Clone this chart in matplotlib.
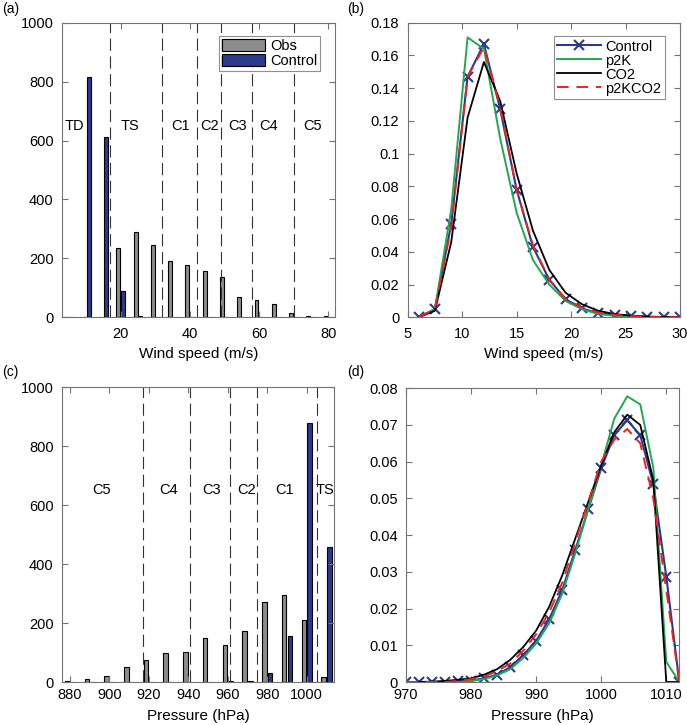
import numpy as np
import matplotlib
matplotlib.use('Agg')
import matplotlib.pyplot as plt
from matplotlib.ticker import FuncFormatter

plt.rcParams['font.family'] = ['Liberation Sans', 'DejaVu Sans']
plt.rcParams['font.size'] = 10.5

# (a) wind speed histogram
wind_bins = [5, 10, 15, 20, 25, 30, 35, 40, 45, 50, 55, 60, 65, 70, 75, 80]
wind_obs = [2, 0, 0, 235, 290, 245, 192, 178, 158, 137, 68, 60, 45, 15, 5, 5]
wind_ctl = [0, 815, 612, 90, 5, 0, 0, 0, 0, 0, 0, 0, 0, 0, 0, 0]
wind_thresh = [17, 32, 42, 49, 58, 70]
wind_cat_x = [6.5, 22.8, 37.2, 45.6, 53.8, 62.8, 75.6]
wind_cat = ['TD', 'TS', 'C1', 'C2', 'C3', 'C4', 'C5']

# (b) wind speed PDFs
wind_x = [6, 7.5, 9, 10.5, 12, 13.5, 15, 16.5, 18, 19.5, 21, 22.5, 24, 25.5, 27, 28.5, 30]
wind_control = [0, 0.005, 0.057, 0.147, 0.167, 0.127, 0.078, 0.043, 0.023, 0.011,
                0.0055, 0.0024, 0.0016, 0.0008, 0.0002, 0, 0]
wind_p2k = [0, 0.005, 0.066, 0.171, 0.164, 0.109, 0.064, 0.035, 0.020, 0.010,
            0.005, 0.002, 0.001, 0.0005, 0, 0, 0]
wind_co2 = [0, 0.004, 0.046, 0.122, 0.156, 0.132, 0.088, 0.053, 0.029, 0.015,
            0.008, 0.004, 0.002, 0.001, 0.0005, 0.0002, 0]
wind_p2kco2 = [0, 0.005, 0.055, 0.147, 0.165, 0.128, 0.078, 0.044, 0.023, 0.011,
               0.006, 0.003, 0.0015, 0.0008, 0.0003, 0, 0]

# (c) pressure histogram
pres_bins = [880, 890, 900, 910, 920, 930, 940, 950, 960, 970, 980, 990, 1000, 1010]
pres_obs = [2, 9, 22, 50, 75, 98, 103, 149, 125, 174, 270, 296, 209, 16]
pres_ctl = [0, 0, 0, 0, 0, 0, 0, 0, 2, 5, 30, 155, 878, 458]
pres_thresh = [917, 941, 961, 975, 1005]
pres_cat_x = [896, 929.8, 951.8, 969.6, 989, 1009.5]
pres_cat = ['C5', 'C4', 'C3', 'C2', 'C1', 'TS']

# (d) pressure PDFs
pres_x = [970, 972, 974, 976, 978, 980, 982, 984, 986, 988, 990,
          992, 994, 996, 998, 1000, 1002, 1004, 1006, 1008, 1010, 1012]
pres_control = [0, 0, 0, 0, 0.0002, 0.0004, 0.001, 0.002, 0.004, 0.0073, 0.0112,
                0.0171, 0.025, 0.0359, 0.047, 0.0582, 0.0672, 0.0713, 0.0672, 0.0539, 0.0287, 0]
pres_p2k = [0, 0, 0, 0, 0, 0.0003, 0.0008, 0.0018, 0.0035, 0.0065, 0.0105,
            0.016, 0.024, 0.035, 0.047, 0.059, 0.0717, 0.0778, 0.0756, 0.0584, 0.0055, 0]
pres_co2 = [0, 0, 0.0001, 0.0003, 0.0006, 0.001, 0.002, 0.0035, 0.006, 0.0095, 0.014,
            0.0205, 0.029, 0.039, 0.049, 0.059, 0.068, 0.0728, 0.070, 0.055, 0, 0]
pres_p2kco2 = [0, 0, 0, 0, 0.0003, 0.0008, 0.0015, 0.003, 0.005, 0.0085, 0.013,
               0.019, 0.027, 0.038, 0.049, 0.060, 0.066, 0.0689, 0.065, 0.050, 0.025, 0]

GRAY = '#8c8c8c'
BLUE = '#2b3990'
GREEN = '#22a850'
RED = '#ee2020'
SPINE = '0.45'


def style_axes(ax, xpad):
    ax.tick_params(direction='in', top=True, right=True, length=4,
                   color=SPINE, labelsize=10.5, pad=6)
    ax.tick_params(axis='x', pad=xpad)
    for s in ax.spines.values():
        s.set_color(SPINE)
        s.set_linewidth(0.8)


def draw_hist(ax, bins, obs, ctl, binw, thresh, cat_x, cats):
    bins = np.array(bins, dtype=float)
    off = binw * 0.143
    w = binw * 0.229
    ax.bar(bins - off, obs, width=w, color=GRAY, edgecolor='black', linewidth=0.8, label='Obs')
    ax.bar(bins + off, ctl, width=w, color=BLUE, edgecolor='black', linewidth=0.8, label='Control')
    for t in thresh:
        ax.axvline(t, color='0.2', linewidth=0.8, linestyle=(0, (11, 5)))
    for x, c in zip(cat_x, cats):
        ax.text(x, 650, c, ha='center', va='center', fontsize=10.5)
    ax.set_ylim(0, 1000)
    ax.set_yticks(range(0, 1001, 200))


fig = plt.figure(figsize=(6.87, 7.25), dpi=100)
ax_a = fig.add_axes([0.0902, 0.5623, 0.3974, 0.4064])
ax_b = fig.add_axes([0.5934, 0.5623, 0.3964, 0.4064])
ax_c = fig.add_axes([0.0902, 0.0593, 0.3965, 0.4065])
ax_d = fig.add_axes([0.5910, 0.0593, 0.3978, 0.4052])

# panel (a)
draw_hist(ax_a, wind_bins, wind_obs, wind_ctl, 5, wind_thresh, wind_cat_x, wind_cat)
ax_a.set_xlim(3, 82)
ax_a.set_xticks([20, 40, 60, 80])
ax_a.set_xlabel('Wind speed (m/s)', fontsize=11, labelpad=4)
leg = ax_a.legend(loc='upper right', bbox_to_anchor=(0.945, 0.955), fancybox=False,
                  handlelength=3.0, handleheight=0.95, handletextpad=0.3,
                  borderpad=0.2, labelspacing=0.05, borderaxespad=0)
leg.get_frame().set_edgecolor('0.45')
leg.get_frame().set_linewidth(0.8)
style_axes(ax_a, 7)

# panel (b)
ax_b.plot(wind_x, wind_control, color=BLUE, lw=1.5, marker='x', ms=7, mew=1.5, label='Control')
ax_b.plot(wind_x, wind_p2k, color=GREEN, lw=1.4, label='p2K')
ax_b.plot(wind_x, wind_co2, color='black', lw=1.3, label='CO2')
ax_b.plot(wind_x, wind_p2kco2, color=RED, lw=1.4, linestyle=(0, (6, 4)), label='p2KCO2')
ax_b.set_xlim(5, 30)
ax_b.set_ylim(0, 0.18)
ax_b.set_yticks(np.arange(0, 0.181, 0.02))
ax_b.set_xticks([5, 10, 15, 20, 25, 30])
ax_b.yaxis.set_major_formatter(FuncFormatter(lambda v, p: '%g' % round(v, 3)))
ax_b.set_xlabel('Wind speed (m/s)', fontsize=11, labelpad=4)
leg = ax_b.legend(loc='upper right', bbox_to_anchor=(0.945, 0.955), fancybox=False,
                  handlelength=3.0, handletextpad=0.3, borderpad=0.25,
                  labelspacing=0.0, borderaxespad=0)
leg.get_frame().set_edgecolor('0.45')
leg.get_frame().set_linewidth(0.8)
style_axes(ax_b, 7)

# panel (c)
draw_hist(ax_c, pres_bins, pres_obs, pres_ctl, 10, pres_thresh, pres_cat_x, pres_cat)
ax_c.set_xlim(876, 1014)
ax_c.set_xticks(range(880, 1001, 20))
ax_c.set_xlabel('Pressure (hPa)', fontsize=11, labelpad=5)
style_axes(ax_c, 4)

# panel (d)
ax_d.plot(pres_x, pres_control, color=BLUE, lw=1.5, marker='x', ms=7, mew=1.5)
ax_d.plot(pres_x, pres_p2k, color=GREEN, lw=1.4)
ax_d.plot(pres_x, pres_co2, color='black', lw=1.3)
ax_d.plot(pres_x, pres_p2kco2, color=RED, lw=1.4, linestyle=(0, (6, 4)))
ax_d.set_xlim(970, 1012)
ax_d.set_ylim(0, 0.08)
ax_d.set_xticks([970, 980, 990, 1000, 1010])
ax_d.set_yticks(np.arange(0, 0.081, 0.01))
ax_d.yaxis.set_major_formatter(FuncFormatter(lambda v, p: '%g' % round(v, 3)))
ax_d.set_xlabel('Pressure (hPa)', fontsize=11, labelpad=5)
style_axes(ax_d, 4)

for lbl, x, y in [('(a)', 0.003, 0.987), ('(b)', 0.506, 0.987),
                  ('(c)', 0.003, 0.487), ('(d)', 0.506, 0.487)]:
    fig.text(x, y, lbl, fontsize=10, ha='left', va='center')

fig.savefig('out.png', dpi=100)
